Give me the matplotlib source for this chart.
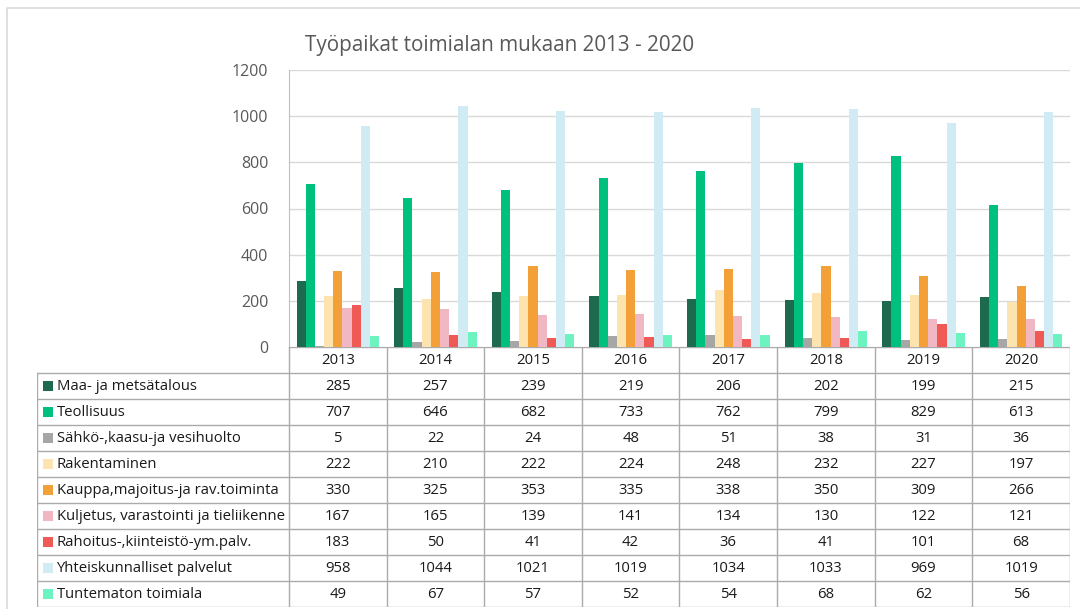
import matplotlib.pyplot as plt
import numpy as np
from matplotlib.patches import Rectangle

plt.rcParams['font.family'] = ['Open Sans', 'DejaVu Sans']

years = ["2013", "2014", "2015", "2016", "2017", "2018", "2019", "2020"]
industries = [
    "Maa- ja metsätalous",
    "Teollisuus",
    "Sähkö-,kaasu-ja vesihuolto",
    "Rakentaminen",
    "Kauppa,majoitus-ja rav.toiminta",
    "Kuljetus, varastointi ja tieliikenne",
    "Rahoitus-,kiinteistö-ym.palv.",
    "Yhteiskunnalliset palvelut",
    "Tuntematon toimiala",
]
maa = [285, 257, 239, 219, 206, 202, 199, 215]
teollisuus = [707, 646, 682, 733, 762, 799, 829, 613]
sahko = [5, 22, 24, 48, 51, 38, 31, 36]
rakentaminen = [222, 210, 222, 224, 248, 232, 227, 197]
kauppa = [330, 325, 353, 335, 338, 350, 309, 266]
kuljetus = [167, 165, 139, 141, 134, 130, 122, 121]
rahoitus = [183, 50, 41, 42, 36, 41, 101, 68]
yhteis = [958, 1044, 1021, 1019, 1034, 1033, 969, 1019]
tuntematon = [49, 67, 57, 52, 54, 68, 62, 56]
series = [maa, teollisuus, sahko, rakentaminen, kauppa, kuljetus, rahoitus, yhteis, tuntematon]

colors = ["#1d6a4e", "#00c07e", "#a6a6a6", "#fde3ae", "#f4a038", "#f1b7c2",
          "#ef5a57", "#d1ebf4", "#6df3bf"]

W, H = 1080, 609
fig = plt.figure(figsize=(W / 100, H / 100), dpi=100)

def fbox(x0, y0, x1, y1):
    return [x0 / W, 1 - y1 / H, (x1 - x0) / W, (y1 - y0) / H]

# outer chart border
bg = fig.add_axes([0, 0, 1, 1])
bg.set_xlim(0, W)
bg.set_ylim(H, 0)
bg.axis("off")
bg.plot([7, 7, 1085], [615, 8, 8], color="#d9d9d9", lw=1.2)

fig.text(305 / W, 1 - 46 / H, "Työpaikat toimialan mukaan 2013 - 2020",
         fontsize=14.9, color="#595959", va="center", ha="left")

# bar chart
ax = fig.add_axes(fbox(289, 70, 1070, 347))
x = np.arange(len(years))
n = len(series)
bw = 0.094
for i, vals in enumerate(series):
    ax.bar(x + (i - (n - 1) / 2) * bw, vals, width=bw, color=colors[i], zorder=3)
ax.set_xlim(-0.5, len(years) - 0.5)
ax.set_ylim(0, 1200)
ax.set_yticks(range(0, 1201, 200))
ax.set_xticks([])
ax.grid(axis="y", color="#d9d9d9", lw=1, zorder=0)
ax.tick_params(axis="y", length=0, pad=15, labelsize=11.5, labelcolor="#595959")
for s in ["top", "right", "bottom"]:
    ax.spines[s].set_visible(False)
ax.spines["left"].set_color("#bfbfbf")

# data table
lab_w = 252 / (781 / 8)
tx = fig.add_axes(fbox(37, 347, 1070, 607))
tx.set_xlim(-0.5 - lab_w, len(years) - 0.5)
tx.set_ylim(len(industries) + 1, 0)
tx.axis("off")
lc = "#ababab"
nr = len(industries) + 1
for j in range(len(years) + 1):
    tx.plot([j - 0.5, j - 0.5], [0, nr], color=lc, lw=1)
tx.plot([-0.5 - lab_w] * 2, [1, nr], color=lc, lw=1)
tx.plot([-0.5, len(years) - 0.5], [0, 0], color=lc, lw=1)
for r in range(1, nr + 1):
    tx.plot([-0.5 - lab_w, len(years) - 0.5], [r, r], color=lc, lw=1)

fs = 10.7
tc = "#1a1a1a"
for j, y in enumerate(years):
    tx.text(j, 0.5, y, ha="center", va="center", fontsize=fs, color=tc)
for i, name in enumerate(industries):
    tx.add_patch(Rectangle((-0.5 - lab_w + 0.06, i + 1.5 - 0.2), 0.1, 0.4,
                           color=colors[i], lw=0))
    tx.text(-0.5 - lab_w + 0.2, i + 1.5, name, ha="left", va="center",
            fontsize=fs, color=tc)
    for j, v in enumerate(series[i]):
        tx.text(j, i + 1.5, str(v), ha="center", va="center", fontsize=fs,
                color=tc)

fig.savefig("out.png", dpi=100)
